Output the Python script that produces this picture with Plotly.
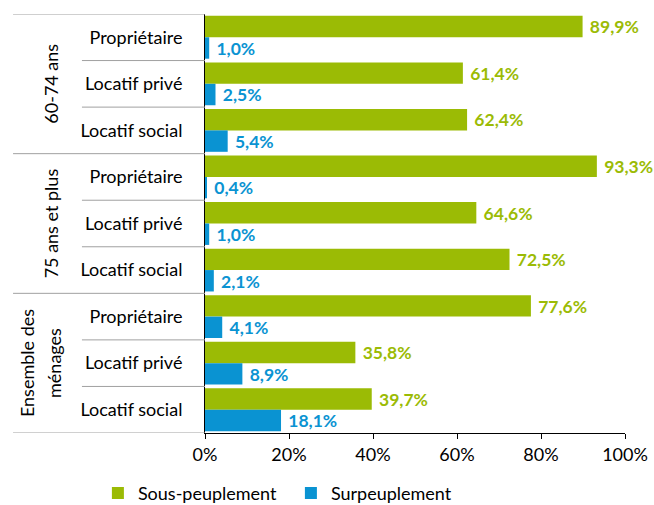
import plotly.graph_objects as go

# Household groups and tenure types (top to bottom)
groups = ["60-74 ans", "75 ans et plus", "Ensemble des ménages"]
tenures = ["Propriétaire", "Locatif privé", "Locatif social"]

# Shares of households (%) per group x tenure
sous_peuplement = [89.9, 61.4, 62.4, 93.3, 64.6, 72.5, 77.6, 35.8, 39.7]
surpeuplement = [1.0, 2.5, 5.4, 0.4, 1.0, 2.1, 4.1, 8.9, 18.1]

x_ticks = [0, 20, 40, 60, 80, 100]
x_tick_labels = ["0%", "20%", "40%", "60%", "80%", "100%"]

GREEN = "#9BBB05"
BLUE = "#0A93D2"
FONT = "Lato"
FS = 18

n = len(groups) * len(tenures)
positions = list(range(n))
labels = [t for _ in groups for t in tenures]

fig = go.Figure()
for name, vals, col in [("Sous-peuplement", sous_peuplement, GREEN),
                        ("Surpeuplement", surpeuplement, BLUE)]:
    fig.add_trace(go.Bar(
        y=positions, x=vals, name=name, orientation="h",
        marker=dict(color=col, line=dict(width=0)),
        texttemplate="\u00a0%{x:.1f}%", textposition="outside",
        outsidetextfont=dict(color=col, size=FS, family=FONT, weight="bold"),
        cliponaxis=False,
    ))

shapes = []
# separators on the category axis side
for k in range(n + 1):
    is_group = k % len(tenures) == 0
    shapes.append(dict(
        type="line", xref="x domain", yref="y",
        x0=-0.457 if is_group else -0.293, x1=0,
        y0=k - 0.5, y1=k - 0.5,
        line=dict(color="#A0A0A0", width=1),
    ))

# rotated group titles; long ones split over two lines
annotations = []
for g, name in enumerate(groups):
    center = g * len(tenures) + (len(tenures) - 1) / 2
    words = name.split(" ")
    if len(name) > 16:
        lines = [" ".join(words[:2]), " ".join(words[2:])]
        xs = [-0.424, -0.36]
    else:
        lines = [name]
        xs = [-0.367]
    for line, xpos in zip(lines, xs):
        annotations.append(dict(
            text=line, xref="x domain", yref="y",
            x=xpos, y=center, xanchor="center", yanchor="middle",
            textangle=-90, showarrow=False,
            font=dict(size=FS, family=FONT, color="#000000"),
        ))

fig.update_layout(
    width=654, height=505,
    margin=dict(l=205, r=29, t=14, b=72, autoexpand=False),
    paper_bgcolor="white", plot_bgcolor="white",
    barmode="group", bargap=0.08, bargroupgap=0,
    separators=", ",
    font=dict(family=FONT, size=FS, color="#000000"),
    shapes=shapes, annotations=annotations,
    legend=dict(orientation="h", x=-0.255, y=-0.144, xanchor="left", yanchor="middle",
                font=dict(size=FS, family=FONT), itemwidth=30,
                entrywidth=148, entrywidthmode="pixels", traceorder="normal"),
    showlegend=True,
)
fig.update_xaxes(
    range=[0, 100], tickvals=x_ticks, ticktext=x_tick_labels,
    showgrid=False, zeroline=False,
    showline=True, linecolor="#000000", linewidth=1,
    ticks="outside", ticklen=5, tickcolor="#000000",
    tickfont=dict(size=FS, family=FONT), automargin=False,
)
fig.update_yaxes(
    range=[n - 0.5, -0.5], tickvals=positions, ticktext=labels,
    showgrid=False, zeroline=False,
    showline=True, linecolor="#000000", linewidth=1,
    ticks="", ticklabelstandoff=18,
    tickfont=dict(size=FS, family=FONT), automargin=False,
)

fig.write_html("out.html")
